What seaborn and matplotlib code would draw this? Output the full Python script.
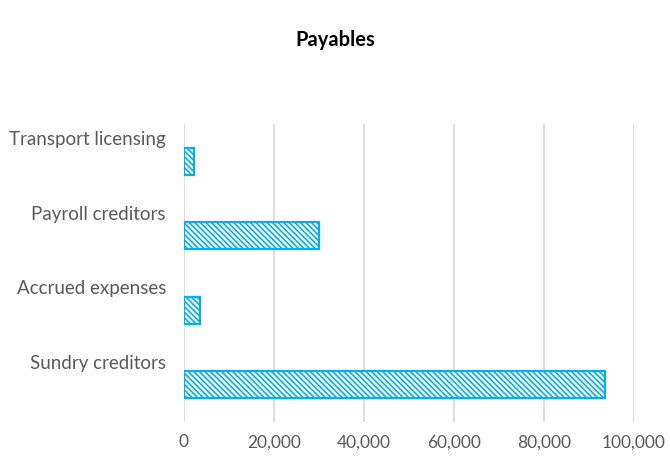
import seaborn as sns
import matplotlib.pyplot as plt
import matplotlib.ticker as mticker

# data
categories = ["Transport licensing", "Payroll creditors", "Accrued expenses", "Sundry creditors"]
amounts = [2200, 30000, 3500, 93500]
x_ticks = [0, 20000, 40000, 60000, 80000, 100000]

sns.set_style("white")
plt.rcParams["font.family"] = ["Lato", "DejaVu Sans"]
plt.rcParams["hatch.linewidth"] = 1.2
plt.rcParams["hatch.color"] = "#00B0F0"

fig = plt.figure(figsize=(6.7, 4.57), dpi=100)
ax = fig.add_axes([0.2746, 0.0766, 0.6717, 0.6521])

sns.barplot(x=amounts, y=categories, orient="h", ax=ax,
            color="white", edgecolor="#00B0F0", linewidth=1.6,
            hatch="\\\\\\\\\\\\", width=0.36, zorder=3)

ax.set_xlim(0, 100000)
ax.set_ylim(3.5, -0.5)
ax.set_xticks(x_ticks)
ax.xaxis.set_major_formatter(mticker.StrMethodFormatter("{x:,.0f}"))

# category labels sit above the bars
ax.set_yticks([i - 0.31 for i in range(len(categories))])
ax.set_yticklabels(categories)

ax.tick_params(axis="both", length=0, colors="#595959")
ax.tick_params(axis="y", pad=13, labelsize=13.5)
ax.tick_params(axis="x", pad=9, labelsize=12.5)
ax.xaxis.grid(True, color="#D9D9D9", linewidth=1.2, zorder=0)
ax.set_axisbelow(True)
for s in ax.spines.values():
    s.set_visible(False)

ax.set_xlabel("")
ax.set_ylabel("")
fig.suptitle("Payables", y=0.912, va="center", fontsize=14.5,
             fontweight="bold", color="black")

plt.savefig("out.png", dpi=100)
